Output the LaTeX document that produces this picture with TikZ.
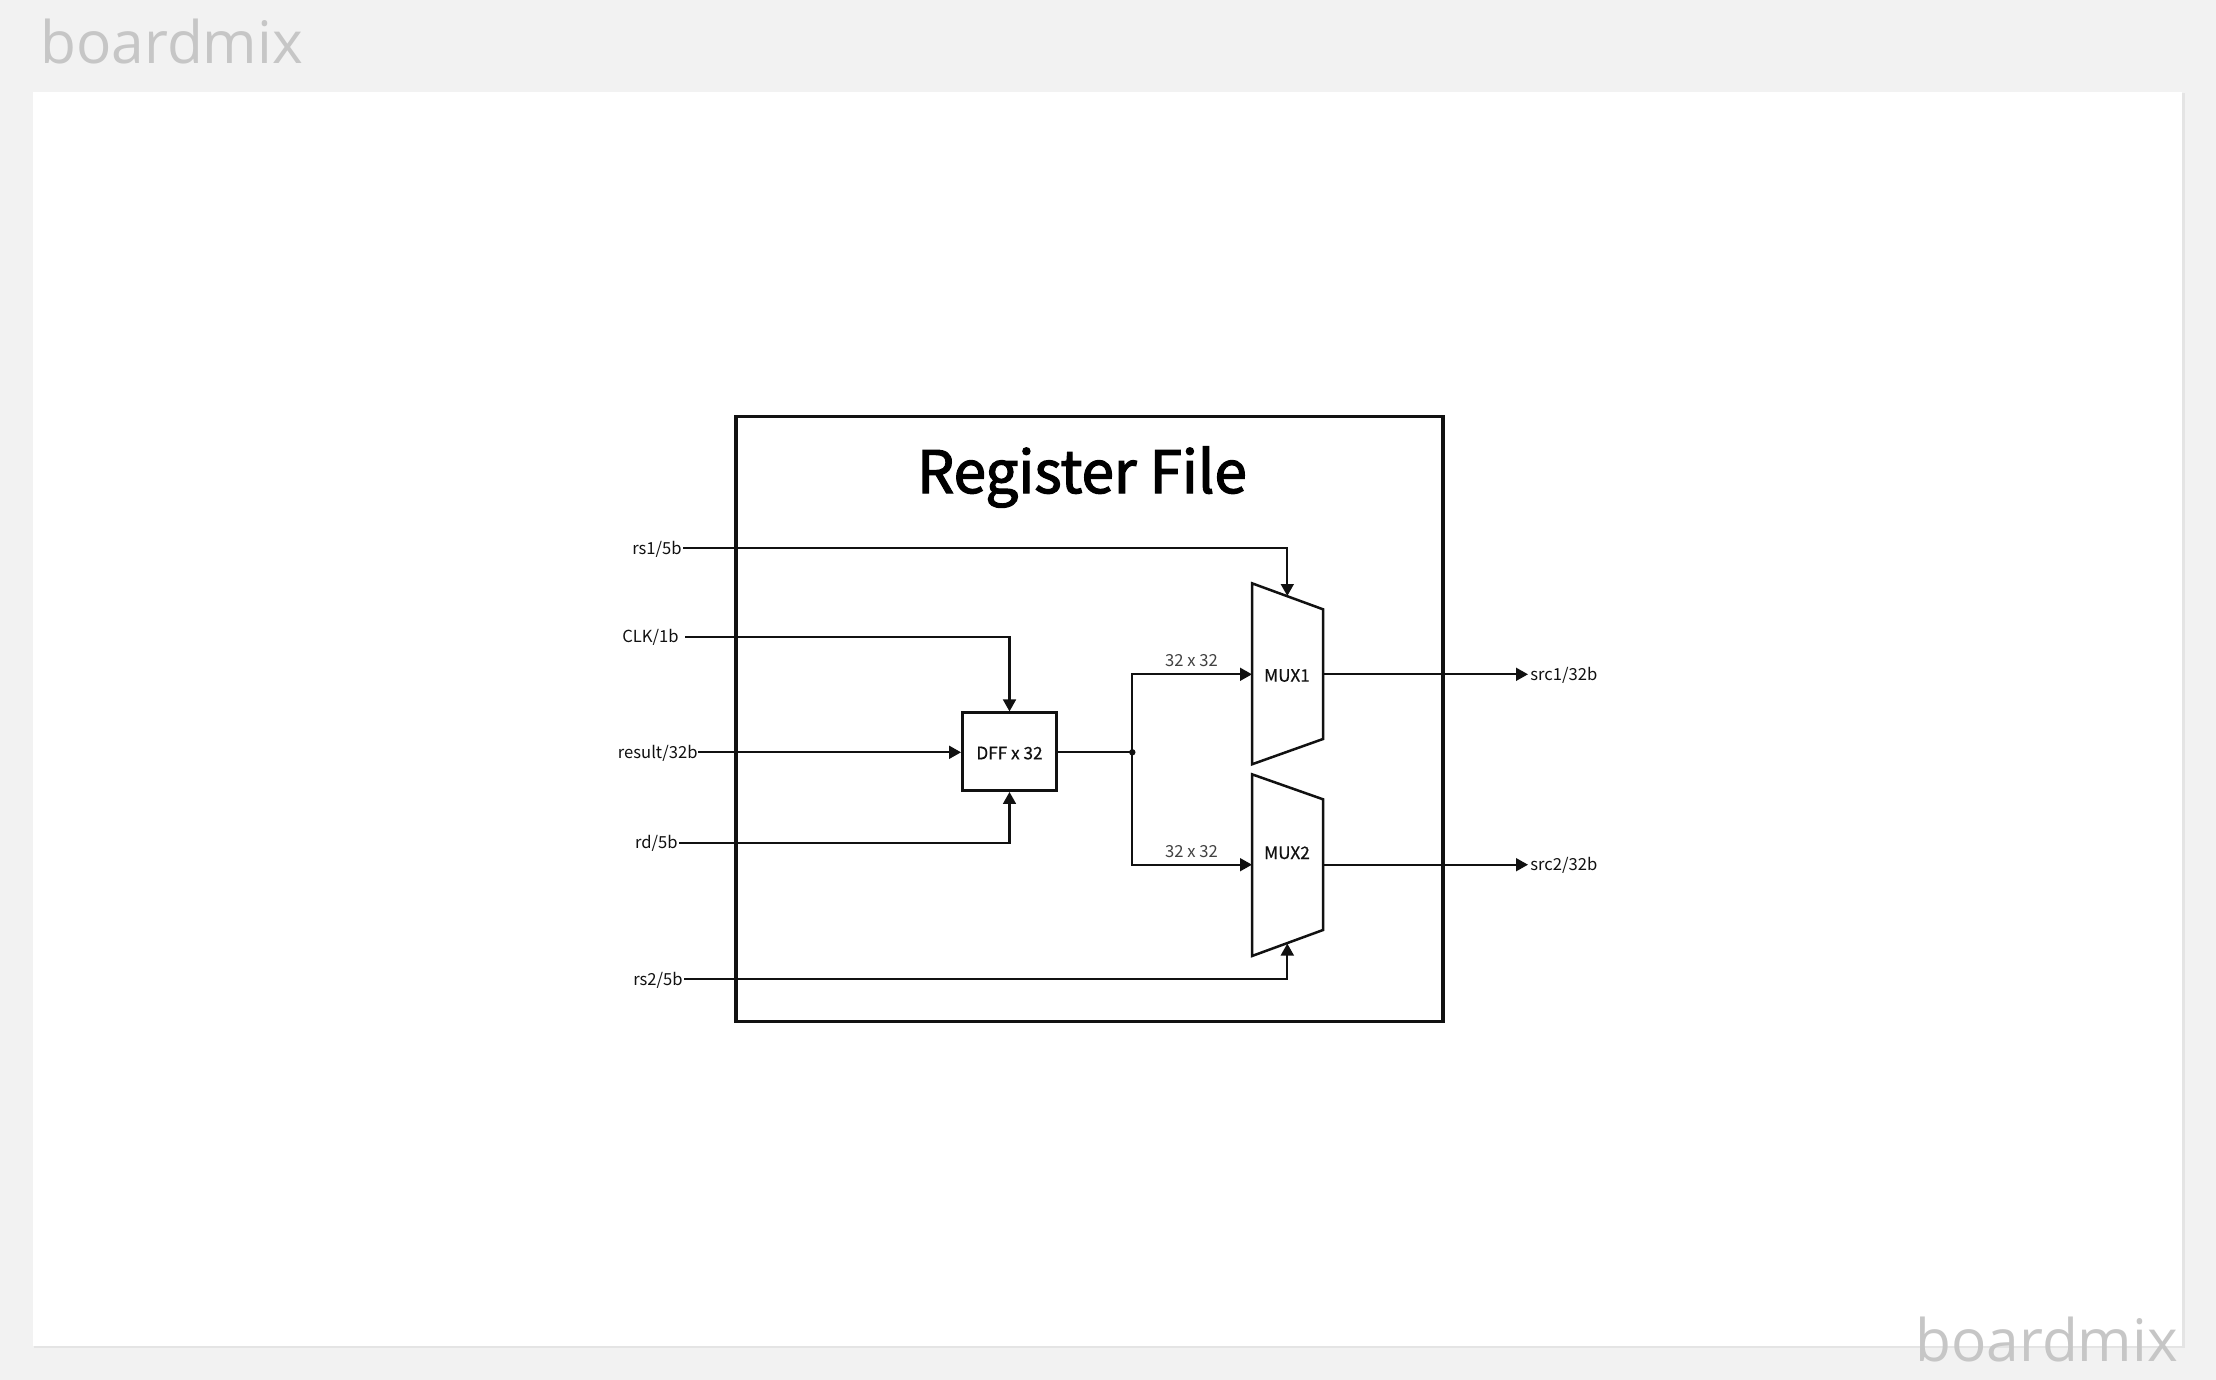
\documentclass[tikz,border=0pt]{standalone}
\usepackage{fontspec}
\usetikzlibrary{arrows.meta}
\newfontfamily\labfont{Noto Sans CJK SC}
\newfontfamily\medfont[FakeBold=0.5]{Noto Sans CJK SC}
\newfontfamily\titlefont[FakeBold=2.2]{Noto Sans CJK SC}
\newfontfamily\wmfont{Open Sans}
\definecolor{bggray}{HTML}{F2F2F2}
\definecolor{wmgray}{HTML}{C6C6C6}
\definecolor{shadowgray}{HTML}{E4E4E4}
\definecolor{ink}{HTML}{111111}
\begin{document}
\begin{tikzpicture}[x=0.5pt,y=-0.5pt,
  wire/.style={draw=ink,line width=1.15pt},
  arr/.style={wire,-{Triangle[length=6pt,width=6.4pt]}},
  box/.style={draw=ink,line width=1.25pt},
  lab/.style={font=\labfont\fontsize{8.3}{10}\selectfont,text=ink,inner sep=0pt},
  blab/.style={font=\medfont\fontsize{8.6}{10}\selectfont,text=ink,inner sep=0pt},
  wlab/.style={font=\labfont\fontsize{8.3}{10}\selectfont,text=ink!80,inner sep=0pt},
  wm/.style={font=\wmfont\fontsize{29.3}{31}\selectfont,text=wmgray,inner sep=0pt}
]
\useasboundingbox (0,0) rectangle (2216,1380);
\fill[bggray] (0,0) rectangle (2216,1380);
% panel with soft shadow
\fill[shadowgray] (34,93.5) rectangle (2185,1348);
\fill[white] (33,92.3) rectangle (2182,1345.7);
% watermarks
\node[wm,anchor=base west] (wm1) at (40,63.3) {boardmix};
\node[wm,anchor=base west] (wm2) at (1915,1361) {boardmix};

% outer box
\node[draw=ink,line width=1.6pt,minimum width=353.5pt,minimum height=302.5pt,inner sep=0pt] (rf) at (1089.5,719.2) {};
\node[font=\titlefont\fontsize{29.2}{32}\selectfont,inner sep=0pt,anchor=base] (title) at (1082,493) {Register File};

% DFF
\node[box,minimum width=47.2pt,minimum height=39pt,inner sep=0pt] (dff) at (1009.5,751.7) {};
\node[blab,anchor=base] (dfft) at (1009.5,759.3) {DFF x 32};

% MUX shapes
\draw[box,line join=miter] (1252,583.3) -- (1323,609.3) -- (1323,739) -- (1252,764.3) -- cycle;
\draw[box,line join=miter] (1252,774.3) -- (1323,799.3) -- (1323,930) -- (1252,956) -- cycle;
\coordinate (m1in) at (1252,674.3);
\coordinate (m2in) at (1252,864.7);
\coordinate (m1out) at (1323,674.3);
\coordinate (m2out) at (1323,864.7);
\coordinate (m1sel) at (1287.3,596);
\coordinate (m2sel) at (1287.3,943.5);
\node[blab,anchor=base] (mux1) at (1287,681.7) {MUX1};
\node[blab,anchor=base] (mux2) at (1287,859) {MUX2};

% input labels
\node[lab,anchor=base east] (rs1) at (682,554.3) {rs1/5b};
\node[lab,anchor=base east] (clk) at (679,642.7) {CLK/1b};
\node[lab,anchor=base east] (res) at (698,758.3) {result/32b};
\node[lab,anchor=base east] (rd) at (678,848.7) {rd/5b};
\node[lab,anchor=base east] (rs2) at (683,985.3) {rs2/5b};

\coordinate (rs1s) at (683,548.3);
\coordinate (clks) at (685,636.7);
\coordinate (ress) at (698,752.3);
\coordinate (rds) at (679,842.7);
\coordinate (rs2s) at (684,979.3);

\draw[arr] (rs1s) -| (m1sel);
\draw[arr] (clks) -| (dff.north);
\draw[arr] (ress) -- (dff.west |- ress);
\draw[arr] (rds) -| (dff.south);
\draw[arr] (rs2s) -| (m2sel);

% split
\coordinate (split) at (1132.3,752.3);
\draw[wire] (dff.east |- split) -- (split);
\fill[ink] (split) circle (1.6pt);
\draw[arr] (split) |- (m1in);
\draw[arr] (split) |- (m2in);
\node[wlab,anchor=base] (w1) at (1191.5,666.7) {32 x 32};
\node[wlab,anchor=base] (w2) at (1191.5,857.7) {32 x 32};

% outputs
\coordinate (o1) at (1528,674.3);
\coordinate (o2) at (1528,864.7);
\draw[arr] (m1out) -- (o1);
\draw[arr] (m2out) -- (o2);
\node[lab,anchor=base west] (src1) at (1530,680.5) {src1/32b};
\node[lab,anchor=base west] (src2) at (1530,870.7) {src2/32b};
\end{tikzpicture}
\end{document}
